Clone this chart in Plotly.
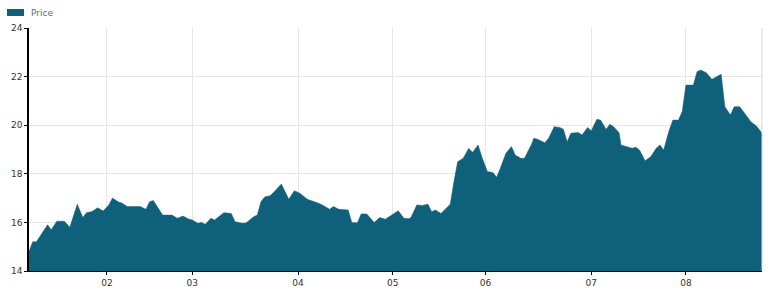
import plotly.graph_objects as go

# week index since start of series
weeks = [0, 2, 4, 10, 12, 15, 19, 22, 26, 29, 31, 34, 37, 40, 43, 45, 48, 50, 53, 60,
         63, 65, 67, 71, 72, 77, 80, 83, 86, 88, 91, 93, 95, 98, 100, 105, 109, 111, 115, 117,
         121, 123, 125, 127, 130, 133, 136, 140, 143, 146, 150, 156, 158, 162, 164, 167, 172, 174, 177, 179,
         182, 186, 189, 192, 199, 202, 205, 206, 209, 212, 215, 217, 219, 222, 226, 227, 229, 231, 234, 237,
         239, 242, 244, 247, 250, 252, 254, 257, 260, 262, 265, 267, 271, 272, 274, 278, 280, 283, 286, 288,
         290, 292, 296, 298, 301, 303, 306, 308, 311, 313, 315, 318, 319, 323, 325, 327, 329, 332, 335, 338,
         340, 342, 345, 347, 350, 352, 354, 358, 360, 362, 365, 368, 373, 375, 378, 380, 383, 387, 389, 392,
         395]
price = [14.8, 15.2, 15.2, 15.9, 15.7, 16.05, 16.05, 15.8, 16.75, 16.2, 16.4, 16.45, 16.6, 16.47, 16.72, 17.0, 16.85, 16.8, 16.65, 16.65,
         16.54, 16.85, 16.9, 16.45, 16.3, 16.3, 16.17, 16.26, 16.14, 16.1, 15.96, 16.0, 15.92, 16.17, 16.1, 16.4, 16.37, 16.03, 15.96, 15.98,
         16.23, 16.3, 16.85, 17.05, 17.1, 17.33, 17.58, 16.95, 17.3, 17.2, 16.95, 16.79, 16.72, 16.54, 16.65, 16.54, 16.51, 15.99, 15.99, 16.35,
         16.35, 16.0, 16.2, 16.13, 16.48, 16.17, 16.15, 16.23, 16.72, 16.7, 16.75, 16.44, 16.51, 16.37, 16.65, 16.75, 17.68, 18.5, 18.64, 19.05,
         18.88, 19.19, 18.7, 18.09, 18.05, 17.86, 18.23, 18.85, 19.12, 18.77, 18.64, 18.64, 19.25, 19.46, 19.42, 19.28, 19.46, 19.94, 19.91, 19.83,
         19.32, 19.67, 19.7, 19.6, 19.91, 19.77, 20.24, 20.21, 19.83, 20.04, 19.94, 19.69, 19.19, 19.09, 19.05, 19.09, 18.98, 18.54, 18.7, 19.05,
         19.19, 18.98, 19.8, 20.21, 20.21, 20.56, 21.65, 21.65, 22.2, 22.27, 22.16, 21.89, 22.1, 20.76, 20.42, 20.76, 20.76, 20.35, 20.14, 19.97,
         19.67]

tick_weeks = [42, 88, 145, 196, 246, 303, 354]
tick_labels = ["02", "03", "04", "05", "06", "07", "08"]
y_ticks = [14, 16, 18, 20, 22, 24]
series_name = "Price"

COLOR = "#0f607b"
FONT = "DejaVu Sans"

fig = go.Figure()
fig.add_trace(go.Scatter(
    x=weeks, y=price, mode="lines", fill="tozeroy",
    line=dict(color=COLOR, width=0.5), fillcolor=COLOR,
    name=series_name, showlegend=False, hoverinfo="x+y",
))

fig.update_layout(
    width=772, height=294,
    margin=dict(l=29, r=10, t=28, b=23, pad=0, autoexpand=False),
    paper_bgcolor="white", plot_bgcolor="white",
    font=dict(family=FONT, size=9, color="#333333"),
    xaxis=dict(
        range=[weeks[0], weeks[-1]], tickvals=tick_weeks, ticktext=tick_labels,
        showgrid=True, gridcolor="#e6e6e6", gridwidth=1,
        showline=True, linecolor="#000000", linewidth=1,
        ticks="outside", ticklen=3, tickcolor="#000000",
        zeroline=False, fixedrange=True, automargin=False,
    ),
    yaxis=dict(
        range=[14, 24], tickvals=y_ticks,
        showgrid=True, gridcolor="#e6e6e6", gridwidth=1,
        showline=True, linecolor="#000000", linewidth=1.5,
        ticks="outside", ticklen=3, tickcolor="#000000",
        zeroline=False, fixedrange=True, automargin=False,
    ),
    shapes=[
        dict(type="line", xref="paper", yref="paper", x0=1, x1=1, y0=0, y1=1,
             line=dict(color="#d8d8d8", width=1)),
        dict(type="rect", xref="paper", yref="paper",
             x0=-22 / 733, x1=-5 / 733, y0=1 + 12 / 243, y1=1 + 19 / 243,
             fillcolor=COLOR, line=dict(width=0)),
    ],
    annotations=[
        dict(text=series_name, xref="paper", yref="paper", x=0, y=1 + 15.5 / 243,
             xanchor="left", yanchor="middle", showarrow=False,
             font=dict(family=FONT, size=9, color="#666666")),
    ],
)

fig.write_html("out.html", config={"displayModeBar": False})
